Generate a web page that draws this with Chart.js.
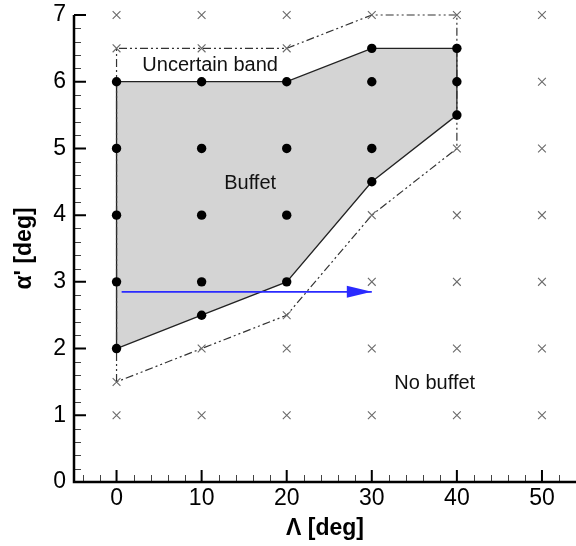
<!DOCTYPE html>
<html>
<head>
<meta charset="utf-8">
<script src="https://cdn.jsdelivr.net/npm/chart.js@4.4.0/dist/chart.umd.min.js"></script>
<style>html,body{margin:0;padding:0;background:#fff}</style>
</head>
<body>
<canvas id="myChart" width="576" height="546"></canvas>
<script>
// buffet region outline (closed)
var buffetX = [0, 0, 20, 30, 40, 40, 30, 20, 10, 0];
var buffetY = [2, 6, 6, 6.5, 6.5, 5.5, 4.5, 3, 2.5, 2];
// uncertain band outline (dash-dot, closed)
var bandX = [0, 0, 20, 30, 40, 40, 30, 20, 10, 0];
var bandY = [1.5, 6.5, 6.5, 7, 7, 5, 4, 2.5, 2, 1.5];
// buffet cases (black dots)
var dotX = [0, 0, 0, 0, 0, 10, 10, 10, 10, 10, 20, 20, 20, 20, 30, 30, 30, 30, 40, 40, 40];
var dotY = [2, 3, 4, 5, 6, 2.5, 3, 4, 5, 6, 3, 4, 5, 6, 4.5, 5, 6, 6.5, 5.5, 6, 6.5];
// no buffet cases (grey crosses)
var crossX = [0, 0, 0, 0, 10, 10, 10, 10, 20, 20, 20, 20, 20, 30, 30, 30, 30, 30,
              40, 40, 40, 40, 40, 40, 50, 50, 50, 50, 50, 50, 50];
var crossY = [1, 1.5, 6.5, 7, 1, 2, 6.5, 7, 1, 2, 2.5, 6.5, 7, 1, 2, 3, 4, 7,
              1, 2, 3, 4, 5, 7, 1, 2, 3, 4, 5, 6, 7];
// blue arrow
var arrowX = [0.6, 30];
var arrowY = [2.85, 2.85];
// ticks
var xTicks = [0, 10, 20, 30, 40, 50];
var yTicks = [0, 1, 2, 3, 4, 5, 6, 7];
// text labels inside the plot
var noteText = ["Uncertain band", "Buffet", "No buffet"];
var noteX = [11, 15.7, 37.4];
var noteY = [6.24, 4.47, 1.47];

function pts(xs, ys) {
  return xs.map(function(x, i) { return {x: x, y: ys[i]}; });
}

var FONT = "'Liberation Sans', Arial, sans-serif";

var decor = {
  id: 'decor',
  beforeDatasetsDraw: function(chart) {
    // grey fill of the buffet region
    var ctx = chart.ctx;
    var meta = chart.getDatasetMeta(0);
    ctx.save();
    ctx.beginPath();
    meta.data.forEach(function(p, i) {
      if (i === 0) ctx.moveTo(p.x, p.y); else ctx.lineTo(p.x, p.y);
    });
    ctx.closePath();
    ctx.fillStyle = '#d4d4d4';
    ctx.fill();
    ctx.restore();
  },
  afterDatasetsDraw: function(chart) {
    var ctx = chart.ctx;
    var xs = chart.scales.x, ys = chart.scales.y;
    // arrow head
    var tx = xs.getPixelForValue(arrowX[1]), ty = ys.getPixelForValue(arrowY[1]);
    ctx.save();
    ctx.fillStyle = '#2a2aff';
    ctx.beginPath();
    ctx.moveTo(tx, ty);
    ctx.lineTo(tx - 25, ty - 6);
    ctx.lineTo(tx - 25, ty + 6);
    ctx.closePath();
    ctx.fill();
    // notes
    ctx.fillStyle = '#111';
    ctx.font = '20px ' + FONT;
    ctx.textAlign = 'center';
    ctx.textBaseline = 'middle';
    noteText.forEach(function(t, i) {
      ctx.fillText(t, xs.getPixelForValue(noteX[i]), ys.getPixelForValue(noteY[i]));
    });
    ctx.restore();
  },
  afterDraw: function(chart) {
    var ctx = chart.ctx;
    var xs = chart.scales.x, ys = chart.scales.y, a = chart.chartArea;
    ctx.save();
    // minor ticks
    ctx.lineWidth = 1;
    ctx.strokeStyle = '#444';
    ctx.beginPath();
    for (var v = -4; v <= 54; v += 2) {
      if (v % 10 === 0) continue;
      var px = Math.round(xs.getPixelForValue(v)) + 0.5;
      ctx.moveTo(px, a.bottom); ctx.lineTo(px, a.bottom - 7);
    }
    for (var k = 1; k < 35; k++) {
      if (k % 5 === 0) continue;
      var py = Math.round(ys.getPixelForValue(k / 5)) + 0.5;
      ctx.moveTo(a.left, py); ctx.lineTo(a.left + 7, py);
    }
    ctx.stroke();
    // major ticks
    ctx.strokeStyle = '#000';
    ctx.lineWidth = 2;
    ctx.beginPath();
    xTicks.forEach(function(t) {
      var px = xs.getPixelForValue(t);
      ctx.moveTo(px, a.bottom); ctx.lineTo(px, a.bottom - 12);
    });
    yTicks.forEach(function(t) {
      var py = ys.getPixelForValue(t);
      ctx.moveTo(a.left, py); ctx.lineTo(a.left + 12, py);
    });
    ctx.stroke();
    // axis lines
    ctx.lineWidth = 2.5;
    ctx.beginPath();
    ctx.moveTo(a.left, a.top);
    ctx.lineTo(a.left, a.bottom);
    ctx.lineTo(a.right, a.bottom);
    ctx.stroke();
    ctx.restore();
  }
};

var ctx = document.getElementById('myChart').getContext('2d');
var chart = new Chart(ctx, {
  type: 'scatter',
  data: {
    datasets: [
      { // 0: buffet outline
        data: pts(buffetX, buffetY), showLine: true, tension: 0,
        borderColor: '#222', borderWidth: 1.3, pointRadius: 0, fill: false,
        clip: false, order: 5
      },
      { // 1: uncertain band
        data: pts(bandX, bandY), showLine: true, tension: 0,
        borderColor: '#333', borderWidth: 1.2, borderDash: [8, 3, 2, 3, 2, 3],
        pointRadius: 0, fill: false, clip: false, order: 4
      },
      { // 2: crosses
        data: pts(crossX, crossY), pointStyle: 'crossRot', pointRadius: 5.5,
        borderColor: '#6a6a6a', borderWidth: 1.1, backgroundColor: '#6a6a6a',
        clip: false, order: 3
      },
      { // 3: dots
        data: pts(dotX, dotY), pointStyle: 'circle', pointRadius: 4.7,
        backgroundColor: '#000', borderColor: '#000', borderWidth: 0,
        clip: false, order: 1
      },
      { // 4: arrow shaft
        data: pts(arrowX, arrowY), showLine: true, tension: 0,
        borderColor: '#2a2aff', borderWidth: 1.6, pointRadius: 0,
        clip: false, order: 0
      }
    ]
  },
  options: {
    responsive: false,
    animation: false,
    layout: { autoPadding: false, padding: { top: 15, left: 0, right: 0, bottom: 0 } },
    plugins: { legend: { display: false }, tooltip: { enabled: false } },
    scales: {
      x: {
        type: 'linear', min: -5, max: 54,
        afterBuildTicks: function(s) { s.ticks = xTicks.map(function(v) { return {value: v}; }); },
        afterFit: function(s) { s.height = 64; s.paddingLeft = 0; s.paddingRight = 0; },
        grid: { display: false, drawTicks: false },
        border: { display: false },
        ticks: { font: { family: FONT, size: 23 }, color: '#000', padding: 3, maxRotation: 0, autoSkip: false },
        title: { display: true, text: 'Λ [deg]', color: '#000',
                 font: { family: FONT, size: 23, weight: 'bold' }, padding: { top: 0, bottom: 4 } }
      },
      y: {
        type: 'linear', min: 0, max: 7,
        afterBuildTicks: function(s) { s.ticks = yTicks.map(function(v) { return {value: v}; }); },
        afterFit: function(s) { s.width = 74; s.paddingTop = 0; s.paddingBottom = 0; },
        grid: { display: false, drawTicks: false },
        border: { display: false },
        ticks: { font: { family: FONT, size: 23 }, color: '#000', padding: 8, autoSkip: false },
        title: { display: true, text: "α' [deg]", color: '#000',
                 font: { family: FONT, size: 23, weight: 'bold' }, padding: { top: 11, bottom: 0 } }
      }
    }
  },
  plugins: [decor]
});
</script>
</body>
</html>
